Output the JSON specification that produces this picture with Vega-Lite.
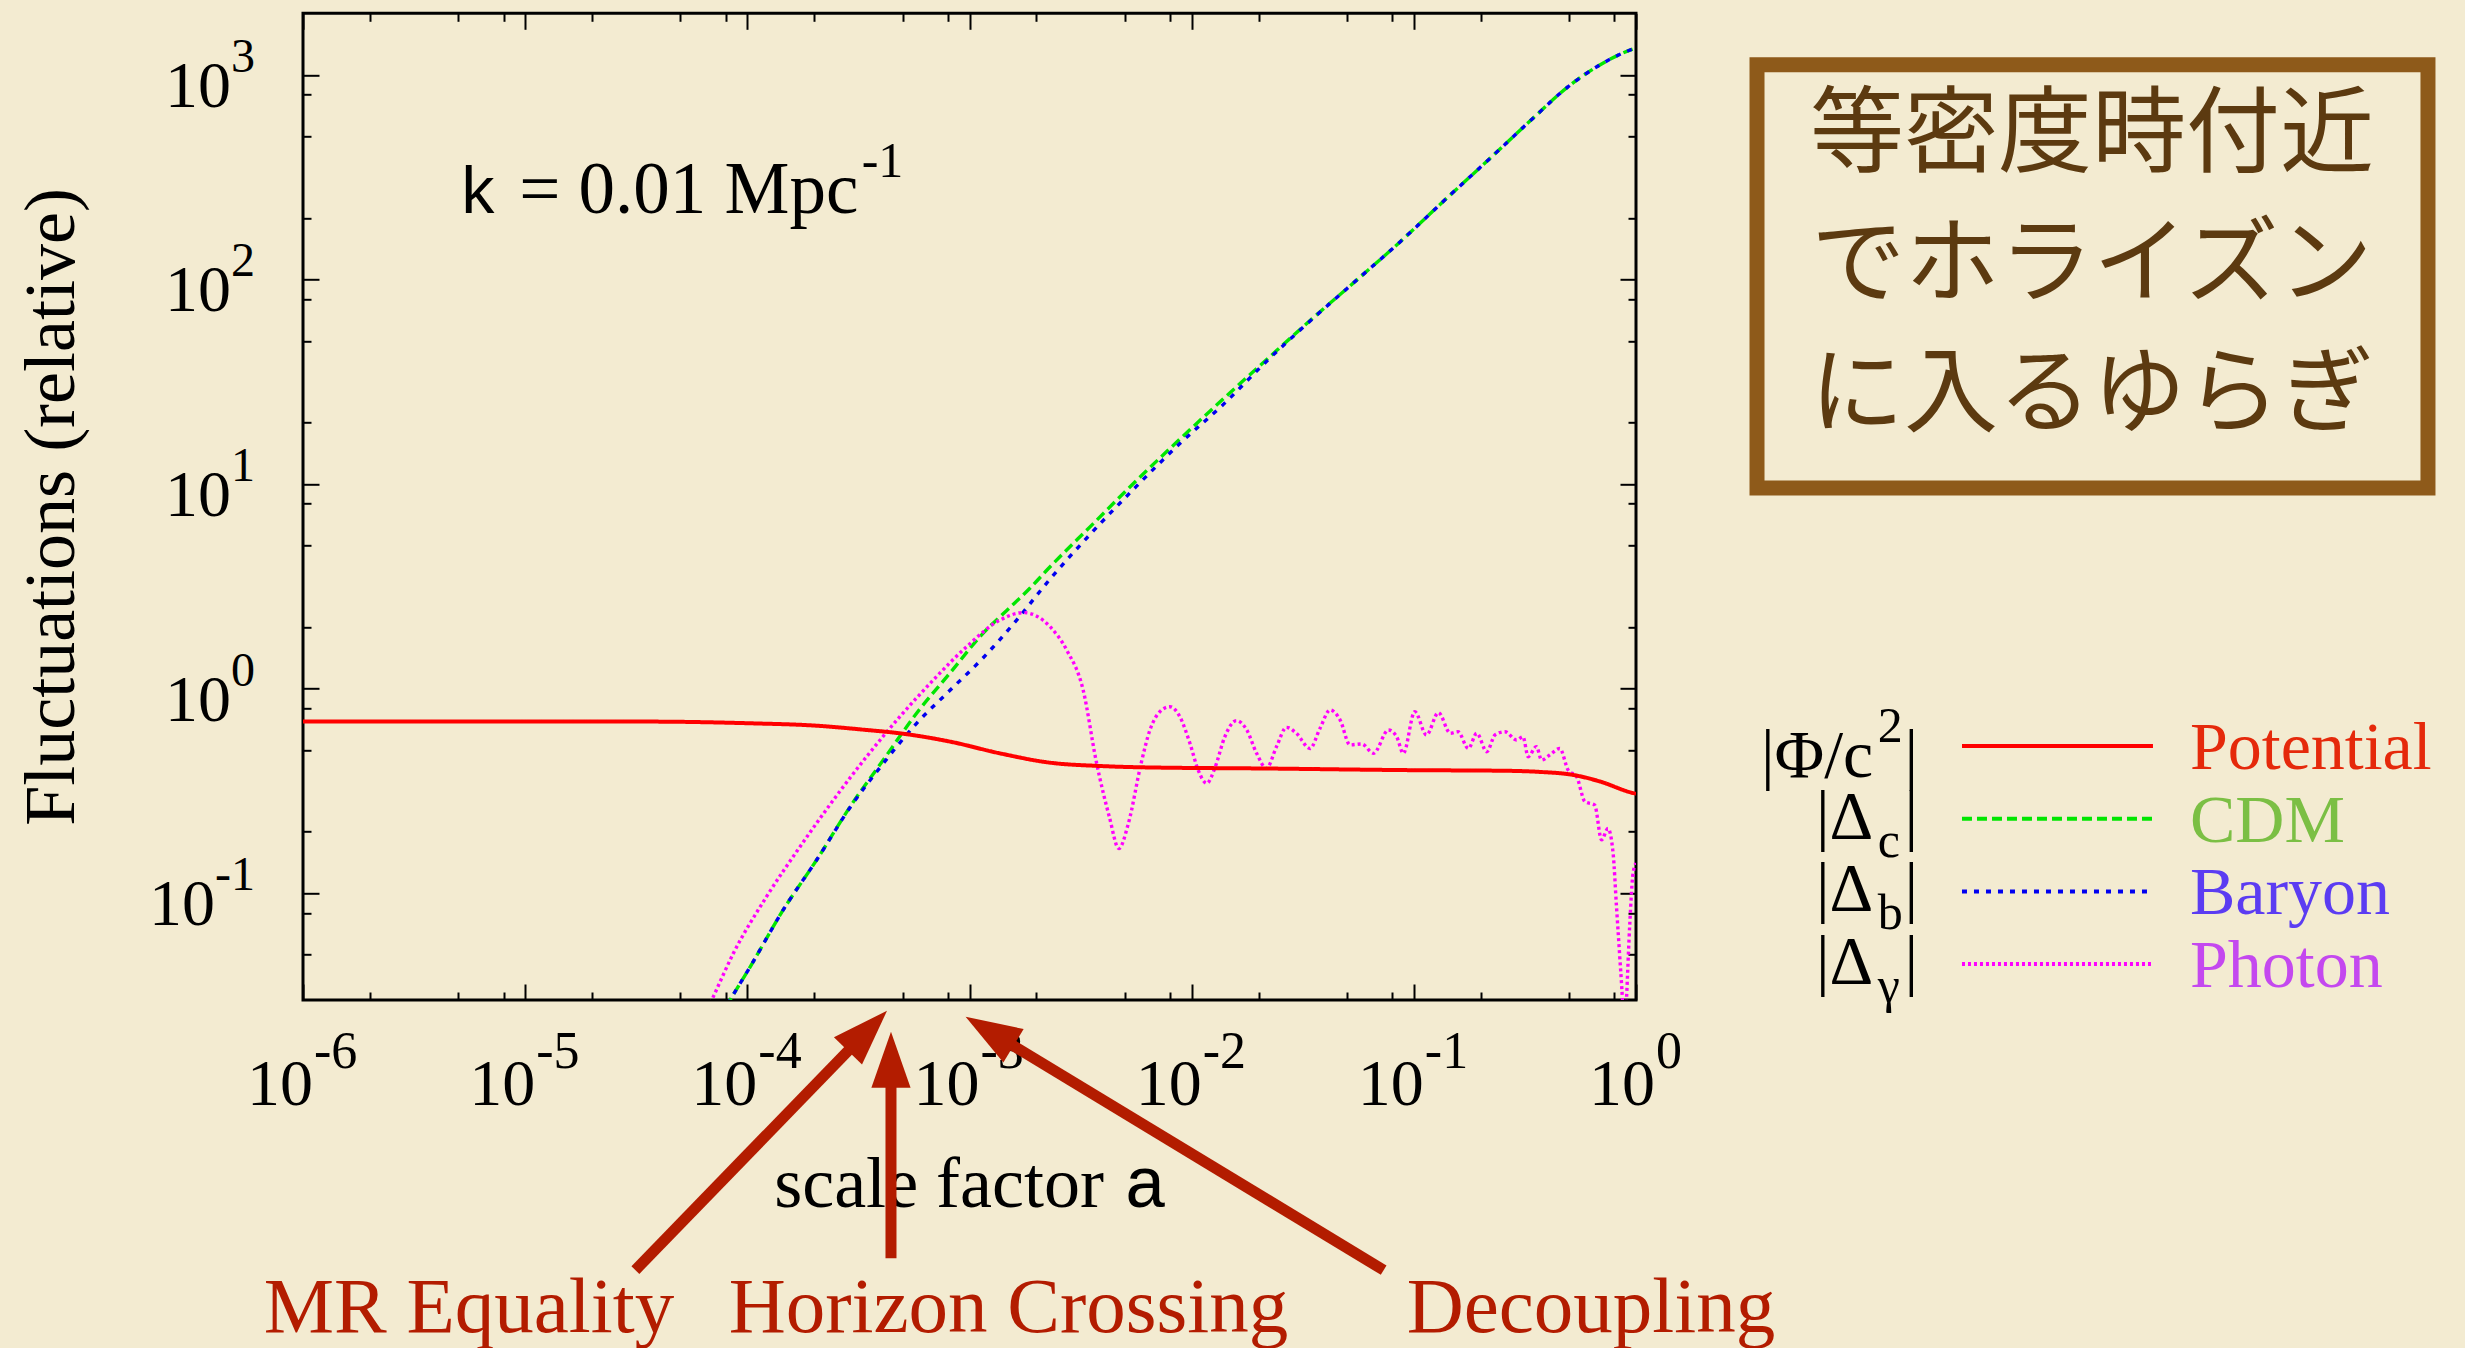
{
  "$schema": "https://vega.github.io/schema/vega-lite/v6.json",
  "width": 1333,
  "height": 986.7,
  "autosize": {"type": "none"},
  "padding": {"left": 303, "top": 13.3, "right": 829, "bottom": 348},
  "background": "#f3ebd1",
  "config": {"view": {"stroke": "#000000", "strokeWidth": 3}, "text": {"font": "Liberation Serif"}},
  "datasets": {
    "curves": [
      {"series": "Potential", "a": 1e-6, "v": 0.69},
      {"series": "Potential", "a": 1e-5, "v": 0.69},
      {"series": "Potential", "a": 3.65e-5, "v": 0.689},
      {"series": "Potential", "a": 1.03e-4, "v": 0.676},
      {"series": "Potential", "a": 2.05e-4, "v": 0.658},
      {"series": "Potential", "a": 3.44e-4, "v": 0.627},
      {"series": "Potential", "a": 4.86e-4, "v": 0.604},
      {"series": "Potential", "a": 8.17e-4, "v": 0.55},
      {"series": "Potential", "a": 1.37e-3, "v": 0.482},
      {"series": "Potential", "a": 2.3e-3, "v": 0.434},
      {"series": "Potential", "a": 3.86e-3, "v": 0.418},
      {"series": "Potential", "a": 5.85e-3, "v": 0.412},
      {"series": "Potential", "a": 2.33e-2, "v": 0.406},
      {"series": "Potential", "a": 9.29e-2, "v": 0.399},
      {"series": "Potential", "a": 0.262, "v": 0.396},
      {"series": "Potential", "a": 0.37, "v": 0.391},
      {"series": "Potential", "a": 0.522, "v": 0.378},
      {"series": "Potential", "a": 0.689, "v": 0.351},
      {"series": "Potential", "a": 0.973, "v": 0.308},
      {"series": "Potential", "a": 1.0, "v": 0.306},
      {"series": "CDM", "a": 6.31e-5, "v": 0.018},
      {"series": "CDM", "a": 8.36e-5, "v": 0.03},
      {"series": "CDM", "a": 1.03e-4, "v": 0.0436},
      {"series": "CDM", "a": 1.45e-4, "v": 0.0827},
      {"series": "CDM", "a": 2.05e-4, "v": 0.145},
      {"series": "CDM", "a": 2.9e-4, "v": 0.264},
      {"series": "CDM", "a": 4.09e-4, "v": 0.447},
      {"series": "CDM", "a": 5.78e-4, "v": 0.757},
      {"series": "CDM", "a": 8.17e-4, "v": 1.19},
      {"series": "CDM", "a": 1.15e-3, "v": 1.86},
      {"series": "CDM", "a": 1.43e-3, "v": 2.34},
      {"series": "CDM", "a": 1.87e-3, "v": 3.09},
      {"series": "CDM", "a": 2.26e-3, "v": 3.85},
      {"series": "CDM", "a": 3.56e-3, "v": 6.31},
      {"series": "CDM", "a": 5.62e-3, "v": 10.35},
      {"series": "CDM", "a": 8.87e-3, "v": 16.6},
      {"series": "CDM", "a": 1.4e-2, "v": 26.3},
      {"series": "CDM", "a": 2.21e-2, "v": 41.2},
      {"series": "CDM", "a": 3.49e-2, "v": 64.3},
      {"series": "CDM", "a": 5.51e-2, "v": 98.9},
      {"series": "CDM", "a": 8.69e-2, "v": 153},
      {"series": "CDM", "a": 0.137, "v": 243},
      {"series": "CDM", "a": 0.217, "v": 385},
      {"series": "CDM", "a": 0.342, "v": 610},
      {"series": "CDM", "a": 0.492, "v": 871},
      {"series": "CDM", "a": 0.678, "v": 1109},
      {"series": "CDM", "a": 0.977, "v": 1343},
      {"series": "CDM", "a": 1.0, "v": 1355},
      {"series": "Baryon", "a": 6.31e-5, "v": 0.018},
      {"series": "Baryon", "a": 8.36e-5, "v": 0.03},
      {"series": "Baryon", "a": 1.03e-4, "v": 0.0436},
      {"series": "Baryon", "a": 1.45e-4, "v": 0.0827},
      {"series": "Baryon", "a": 2.05e-4, "v": 0.145},
      {"series": "Baryon", "a": 2.9e-4, "v": 0.262},
      {"series": "Baryon", "a": 4.09e-4, "v": 0.43},
      {"series": "Baryon", "a": 5.78e-4, "v": 0.676},
      {"series": "Baryon", "a": 8.17e-4, "v": 0.98},
      {"series": "Baryon", "a": 1.15e-3, "v": 1.41},
      {"series": "Baryon", "a": 1.63e-3, "v": 2.16},
      {"series": "Baryon", "a": 2.29e-3, "v": 3.4},
      {"series": "Baryon", "a": 3.56e-3, "v": 5.8},
      {"series": "Baryon", "a": 5.62e-3, "v": 9.7},
      {"series": "Baryon", "a": 8.87e-3, "v": 15.8},
      {"series": "Baryon", "a": 1.4e-2, "v": 24.7},
      {"series": "Baryon", "a": 2.21e-2, "v": 40.5},
      {"series": "Baryon", "a": 3.49e-2, "v": 64.0},
      {"series": "Baryon", "a": 5.51e-2, "v": 98.9},
      {"series": "Baryon", "a": 8.69e-2, "v": 153},
      {"series": "Baryon", "a": 0.137, "v": 243},
      {"series": "Baryon", "a": 0.217, "v": 385},
      {"series": "Baryon", "a": 0.342, "v": 610},
      {"series": "Baryon", "a": 0.492, "v": 871},
      {"series": "Baryon", "a": 0.678, "v": 1109},
      {"series": "Baryon", "a": 0.977, "v": 1343},
      {"series": "Baryon", "a": 1.0, "v": 1355},
      {"series": "Photon", "a": 5.25e-5, "v": 0.0157},
      {"series": "Photon", "a": 6.92e-5, "v": 0.03},
      {"series": "Photon", "a": 8.65e-5, "v": 0.0507},
      {"series": "Photon", "a": 1.22e-4, "v": 0.096},
      {"series": "Photon", "a": 1.73e-4, "v": 0.169},
      {"series": "Photon", "a": 2.44e-4, "v": 0.285},
      {"series": "Photon", "a": 3.44e-4, "v": 0.464},
      {"series": "Photon", "a": 4.86e-4, "v": 0.728},
      {"series": "Photon", "a": 6.87e-4, "v": 1.1},
      {"series": "Photon", "a": 9.7e-4, "v": 1.6},
      {"series": "Photon", "a": 1.37e-3, "v": 2.16},
      {"series": "Photon", "a": 1.75e-3, "v": 2.35},
      {"series": "Photon", "a": 2.3e-3, "v": 2.01},
      {"series": "Photon", "a": 2.74e-3, "v": 1.54},
      {"series": "Photon", "a": 3.25e-3, "v": 0.98},
      {"series": "Photon", "a": 3.72e-3, "v": 0.44},
      {"series": "Photon", "a": 4.26e-3, "v": 0.236},
      {"series": "Photon", "a": 4.7e-3, "v": 0.165},
      {"series": "Photon", "a": 5.19e-3, "v": 0.219},
      {"series": "Photon", "a": 5.92e-3, "v": 0.43},
      {"series": "Photon", "a": 6.49e-3, "v": 0.627},
      {"series": "Photon", "a": 7.19e-3, "v": 0.77},
      {"series": "Photon", "a": 7.98e-3, "v": 0.815},
      {"series": "Photon", "a": 8.85e-3, "v": 0.728},
      {"series": "Photon", "a": 9.82e-3, "v": 0.54},
      {"series": "Photon", "a": 1.07e-2, "v": 0.399},
      {"series": "Photon", "a": 1.17e-2, "v": 0.344},
      {"series": "Photon", "a": 1.27e-2, "v": 0.407},
      {"series": "Photon", "a": 1.41e-2, "v": 0.581},
      {"series": "Photon", "a": 1.59e-2, "v": 0.697},
      {"series": "Photon", "a": 1.77e-2, "v": 0.627},
      {"series": "Photon", "a": 1.96e-2, "v": 0.482},
      {"series": "Photon", "a": 2.17e-2, "v": 0.407},
      {"series": "Photon", "a": 2.41e-2, "v": 0.52},
      {"series": "Photon", "a": 2.67e-2, "v": 0.646},
      {"series": "Photon", "a": 2.96e-2, "v": 0.604},
      {"series": "Photon", "a": 3.41e-2, "v": 0.509},
      {"series": "Photon", "a": 3.78e-2, "v": 0.638},
      {"series": "Photon", "a": 4.2e-2, "v": 0.785},
      {"series": "Photon", "a": 4.66e-2, "v": 0.701},
      {"series": "Photon", "a": 5.16e-2, "v": 0.53},
      {"series": "Photon", "a": 5.83e-2, "v": 0.536},
      {"series": "Photon", "a": 6.58e-2, "v": 0.482},
      {"series": "Photon", "a": 7.69e-2, "v": 0.627},
      {"series": "Photon", "a": 8.37e-2, "v": 0.581},
      {"series": "Photon", "a": 8.97e-2, "v": 0.482},
      {"series": "Photon", "a": 0.101, "v": 0.77},
      {"series": "Photon", "a": 0.114, "v": 0.593},
      {"series": "Photon", "a": 0.129, "v": 0.762},
      {"series": "Photon", "a": 0.146, "v": 0.604},
      {"series": "Photon", "a": 0.158, "v": 0.615},
      {"series": "Photon", "a": 0.176, "v": 0.509},
      {"series": "Photon", "a": 0.192, "v": 0.604},
      {"series": "Photon", "a": 0.213, "v": 0.491},
      {"series": "Photon", "a": 0.232, "v": 0.593},
      {"series": "Photon", "a": 0.257, "v": 0.615},
      {"series": "Photon", "a": 0.29, "v": 0.56},
      {"series": "Photon", "a": 0.31, "v": 0.581},
      {"series": "Photon", "a": 0.327, "v": 0.464},
      {"series": "Photon", "a": 0.356, "v": 0.52},
      {"series": "Photon", "a": 0.376, "v": 0.447},
      {"series": "Photon", "a": 0.409, "v": 0.473},
      {"series": "Photon", "a": 0.454, "v": 0.509},
      {"series": "Photon", "a": 0.495, "v": 0.399},
      {"series": "Photon", "a": 0.54, "v": 0.371},
      {"series": "Photon", "a": 0.589, "v": 0.28},
      {"series": "Photon", "a": 0.652, "v": 0.269},
      {"series": "Photon", "a": 0.7, "v": 0.182},
      {"series": "Photon", "a": 0.748, "v": 0.207},
      {"series": "Photon", "a": 0.789, "v": 0.156},
      {"series": "Photon", "a": 0.817, "v": 0.0857},
      {"series": "Photon", "a": 0.845, "v": 0.0489},
      {"series": "Photon", "a": 0.869, "v": 0.03},
      {"series": "Photon", "a": 0.887, "v": 0.018},
      {"series": "Photon", "a": 0.906, "v": 0.03},
      {"series": "Photon", "a": 0.938, "v": 0.0713},
      {"series": "Photon", "a": 0.97, "v": 0.125},
      {"series": "Photon", "a": 1.0, "v": 0.14}
    ],
    "xticks": [
      {"a": 1e-6, "e": "-6"}, {"a": 1e-5, "e": "-5"}, {"a": 1e-4, "e": "-4"},
      {"a": 1e-3, "e": "-3"}, {"a": 0.01, "e": "-2"}, {"a": 0.1, "e": "-1"}, {"a": 1, "e": "0"}
    ],
    "yticks": [
      {"v": 1000, "e": "3"}, {"v": 100, "e": "2"}, {"v": 10, "e": "1"}, {"v": 1, "e": "0"}, {"v": 0.1, "e": "-1"}
    ],
    "legend": [
      {"series": "Potential", "main": "|Φ/c", "script": "2", "label": "Potential"},
      {"series": "CDM", "main": "|Δ", "script": "c", "label": "CDM"},
      {"series": "Baryon", "main": "|Δ", "script": "b", "label": "Baryon"},
      {"series": "Photon", "main": "|Δ", "script": "γ", "label": "Photon"}
    ]
  },
  "layer": [
    {
      "layer": [
        {
          "data": {"name": "curves"},
          "transform": [{"filter": "datum.series != 'Potential'"}],
          "mark": {"type": "line", "clip": true, "strokeWidth": 3.4, "interpolate": "monotone"},
          "encoding": {
            "x": {"field": "a", "type": "quantitative", "scale": {"type": "log", "domain": [1e-6, 1], "nice": false},
              "axis": {"orient": "top", "values": [1e-6, 2e-6, 5e-6, 8e-6, 1e-5, 2e-5, 5e-5, 8e-5, 1e-4, 2e-4, 5e-4, 8e-4, 0.001, 0.002, 0.005, 0.008, 0.01, 0.02, 0.05, 0.08, 0.1, 0.2, 0.5, 0.8, 1],
                "labels": false, "domain": false, "grid": false, "title": null, "tickColor": "#000000", "tickWidth": 2,
                "tickSize": {"condition": {"test": "abs(log(datum.value)/LN10 - round(log(datum.value)/LN10)) < 0.001", "value": -16}, "value": -8}}},
            "y": {"field": "v", "type": "quantitative", "scale": {"type": "log", "domain": [0.03, 2000], "nice": false},
              "axis": {"orient": "right", "values": [0.05, 0.08, 0.1, 0.2, 0.5, 0.8, 1, 2, 5, 8, 10, 20, 50, 80, 100, 200, 500, 800, 1000],
                "labels": false, "domain": false, "grid": false, "title": null, "tickColor": "#000000", "tickWidth": 2,
                "tickSize": {"condition": {"test": "abs(log(datum.value)/LN10 - round(log(datum.value)/LN10)) < 0.001", "value": -16}, "value": -8}}},
            "stroke": {"field": "series", "type": "nominal", "scale": {"domain": ["Potential", "CDM", "Baryon", "Photon"], "range": ["#ff0000", "#00e600", "#0000f0", "#ff00ff"]}, "legend": null},
            "strokeDash": {"field": "series", "type": "nominal", "scale": {"domain": ["Potential", "CDM", "Baryon", "Photon"], "range": [[1, 0], [10, 5], [5, 7], [3, 3]]}, "legend": null}
          }
        },
        {
          "data": {"name": "curves"},
          "transform": [{"filter": "datum.series == 'Potential'"}],
          "mark": {"type": "line", "clip": true, "strokeWidth": 4, "interpolate": "monotone"},
          "encoding": {
            "x": {"field": "a", "type": "quantitative", "scale": {"type": "log", "domain": [1e-6, 1], "nice": false},
              "axis": {"orient": "bottom", "values": [1e-6, 2e-6, 5e-6, 8e-6, 1e-5, 2e-5, 5e-5, 8e-5, 1e-4, 2e-4, 5e-4, 8e-4, 0.001, 0.002, 0.005, 0.008, 0.01, 0.02, 0.05, 0.08, 0.1, 0.2, 0.5, 0.8, 1],
                "labels": false, "domain": false, "grid": false, "title": null, "tickColor": "#000000", "tickWidth": 2,
                "tickSize": {"condition": {"test": "abs(log(datum.value)/LN10 - round(log(datum.value)/LN10)) < 0.001", "value": -16}, "value": -8}}},
            "y": {"field": "v", "type": "quantitative", "scale": {"type": "log", "domain": [0.03, 2000], "nice": false},
              "axis": {"orient": "left", "values": [0.05, 0.08, 0.1, 0.2, 0.5, 0.8, 1, 2, 5, 8, 10, 20, 50, 80, 100, 200, 500, 800, 1000],
                "labels": false, "domain": false, "grid": false, "title": null, "tickColor": "#000000", "tickWidth": 2,
                "tickSize": {"condition": {"test": "abs(log(datum.value)/LN10 - round(log(datum.value)/LN10)) < 0.001", "value": -16}, "value": -8}}},
            "stroke": {"field": "series", "type": "nominal", "scale": {"domain": ["Potential", "CDM", "Baryon", "Photon"], "range": ["#ff0000", "#00e600", "#0000f0", "#ff00ff"]}, "legend": null},
            "strokeDash": {"field": "series", "type": "nominal", "scale": {"domain": ["Potential", "CDM", "Baryon", "Photon"], "range": [[1, 0], [10, 5], [5, 7], [3, 3]]}, "legend": null}
          }
        },
        {
          "data": {"name": "xticks"},
          "transform": [{"filter": "datum.a < 0.5"}],
          "mark": {"type": "text", "text": "10", "fontSize": 66, "align": "right", "baseline": "alphabetic", "dx": 10, "dy": 105, "color": "#000000"},
          "encoding": {"x": {"field": "a", "type": "quantitative", "axis": null}, "y": {"datum": 0.03, "type": "quantitative", "axis": null}}
        },
        {
          "data": {"name": "xticks"},
          "transform": [{"filter": "datum.a < 0.5"}],
          "mark": {"type": "text", "fontSize": 52, "align": "left", "baseline": "alphabetic", "dx": 11, "dy": 68, "color": "#000000"},
          "encoding": {"text": {"field": "e"}, "x": {"field": "a", "type": "quantitative", "axis": null}, "y": {"datum": 0.03, "type": "quantitative", "axis": null}}
        },
        {
          "data": {"name": "xticks"},
          "transform": [{"filter": "datum.a >= 0.5"}],
          "mark": {"type": "text", "text": "10", "fontSize": 66, "align": "right", "baseline": "alphabetic", "dx": 19, "dy": 105, "color": "#000000"},
          "encoding": {"x": {"field": "a", "type": "quantitative", "axis": null}, "y": {"datum": 0.03, "type": "quantitative", "axis": null}}
        },
        {
          "data": {"name": "xticks"},
          "transform": [{"filter": "datum.a >= 0.5"}],
          "mark": {"type": "text", "fontSize": 52, "align": "left", "baseline": "alphabetic", "dx": 20, "dy": 68, "color": "#000000"},
          "encoding": {"text": {"field": "e"}, "x": {"field": "a", "type": "quantitative", "axis": null}, "y": {"datum": 0.03, "type": "quantitative", "axis": null}}
        },
        {
          "data": {"name": "yticks"},
          "mark": {"type": "text", "fontSize": 48, "align": "right", "baseline": "alphabetic", "dx": -48, "dy": -3, "color": "#000000"},
          "encoding": {"text": {"field": "e"}, "x": {"datum": 1e-6, "type": "quantitative", "axis": null}, "y": {"field": "v", "type": "quantitative", "axis": null}}
        },
        {
          "data": {"name": "yticks"},
          "transform": [{"filter": "datum.v >= 1"}],
          "mark": {"type": "text", "text": "10", "fontSize": 66, "align": "right", "baseline": "alphabetic", "dx": -72, "dy": 32, "color": "#000000"},
          "encoding": {"x": {"datum": 1e-6, "type": "quantitative", "axis": null}, "y": {"field": "v", "type": "quantitative", "axis": null}}
        },
        {
          "data": {"name": "yticks"},
          "transform": [{"filter": "datum.v < 1"}],
          "mark": {"type": "text", "text": "10", "fontSize": 66, "align": "right", "baseline": "alphabetic", "dx": -88, "dy": 32, "color": "#000000"},
          "encoding": {"x": {"datum": 1e-6, "type": "quantitative", "axis": null}, "y": {"field": "v", "type": "quantitative", "axis": null}}
        },
        {
          "data": {"values": [{}]},
          "mark": {"type": "text", "text": "Fluctuations (relative)", "fontSize": 72, "angle": 270, "align": "center", "baseline": "alphabetic", "color": "#000000"},
          "encoding": {"x": {"datum": 9.29e-8, "type": "quantitative", "axis": null}, "y": {"datum": 7.72, "type": "quantitative", "axis": null}}
        },
        {
          "data": {"values": [{}]},
          "mark": {"type": "text", "text": "scale factor", "fontSize": 72, "align": "right", "baseline": "alphabetic", "color": "#000000"},
          "encoding": {"x": {"datum": 4.029e-3, "type": "quantitative", "axis": null}, "y": {"datum": 2.913e-3, "type": "quantitative", "axis": null}}
        },
        {
          "data": {"values": [{}]},
          "mark": {"type": "text", "text": "a", "font": "Liberation Mono", "fontSize": 72, "align": "left", "baseline": "alphabetic", "color": "#000000"},
          "encoding": {"x": {"datum": 4.959e-3, "type": "quantitative", "axis": null}, "y": {"datum": 2.913e-3, "type": "quantitative", "axis": null}}
        },
        {
          "data": {"values": [{}]},
          "mark": {"type": "text", "text": "k", "font": "Liberation Mono", "fontSize": 66, "align": "left", "baseline": "alphabetic", "color": "#000000"},
          "encoding": {"x": {"datum": 5.0e-6, "type": "quantitative", "axis": null}, "y": {"datum": 210.7, "type": "quantitative", "axis": null}}
        },
        {
          "data": {"values": [{}]},
          "mark": {"type": "text", "text": "= 0.01 Mpc", "fontSize": 73, "align": "left", "baseline": "alphabetic", "color": "#000000"},
          "encoding": {"x": {"datum": 9.4e-6, "type": "quantitative", "axis": null}, "y": {"datum": 210.7, "type": "quantitative", "axis": null}}
        },
        {
          "data": {"values": [{}]},
          "mark": {"type": "text", "text": "-1", "fontSize": 50, "align": "left", "baseline": "alphabetic", "color": "#000000"},
          "encoding": {"x": {"datum": 3.27e-4, "type": "quantitative", "axis": null}, "y": {"datum": 318.2, "type": "quantitative", "axis": null}}
        },
        {
          "data": {"values": [{}]},
          "mark": {"type": "text", "text": "MR Equality", "fontSize": 79, "align": "center", "baseline": "alphabetic", "color": "#b31c00"},
          "encoding": {"x": {"datum": 5.588e-6, "type": "quantitative", "axis": null}, "y": {"datum": 7.156e-4, "type": "quantitative", "axis": null}}
        },
        {
          "data": {"values": [{}]},
          "mark": {"type": "text", "text": "Horizon Crossing", "fontSize": 79, "align": "center", "baseline": "alphabetic", "color": "#b31c00"},
          "encoding": {"x": {"datum": 1.498e-3, "type": "quantitative", "axis": null}, "y": {"datum": 7.156e-4, "type": "quantitative", "axis": null}}
        },
        {
          "data": {"values": [{}]},
          "mark": {"type": "text", "text": "Decoupling", "fontSize": 79, "align": "center", "baseline": "alphabetic", "color": "#b31c00"},
          "encoding": {"x": {"datum": 0.6271, "type": "quantitative", "axis": null}, "y": {"datum": 7.156e-4, "type": "quantitative", "axis": null}}
        },
        {
          "data": {"values": [{}]},
          "mark": {"type": "rule", "strokeWidth": 11, "color": "#b31c00"},
          "encoding": {"x": {"datum": 3.134e-5, "type": "quantitative", "axis": null}, "y": {"datum": 0.001434, "type": "quantitative", "axis": null}, "x2": {"datum": 3.184e-4}, "y2": {"datum": 0.01924}}
        },
        {
          "data": {"values": [{}]},
          "mark": {"type": "rule", "strokeWidth": 11, "color": "#b31c00"},
          "encoding": {"x": {"datum": 4.432e-4, "type": "quantitative", "axis": null}, "y": {"datum": 0.00164, "type": "quantitative", "axis": null}, "x2": {"datum": 4.432e-4}, "y2": {"datum": 0.01363}}
        },
        {
          "data": {"values": [{}]},
          "mark": {"type": "rule", "strokeWidth": 11, "color": "#b31c00"},
          "encoding": {"x": {"datum": 0.07314, "type": "quantitative", "axis": null}, "y": {"datum": 0.001434, "type": "quantitative", "axis": null}, "x2": {"datum": 1.369e-3}, "y2": {"datum": 0.01967}}
        },
        {
          "data": {"values": [{}]},
          "mark": {"type": "point", "shape": "M0,-1L0.7,1L-0.7,1Z", "filled": true, "opacity": 1, "size": 3136, "angle": 44.2, "color": "#b31c00"},
          "encoding": {"x": {"datum": 3.474e-4, "type": "quantitative", "axis": null}, "y": {"datum": 0.0212, "type": "quantitative", "axis": null}}
        },
        {
          "data": {"values": [{}]},
          "mark": {"type": "point", "shape": "M0,-1L0.7,1L-0.7,1Z", "filled": true, "opacity": 1, "size": 3136, "angle": 0, "color": "#b31c00"},
          "encoding": {"x": {"datum": 4.432e-4, "type": "quantitative", "axis": null}, "y": {"datum": 0.0153, "type": "quantitative", "axis": null}}
        },
        {
          "data": {"values": [{}]},
          "mark": {"type": "point", "shape": "M0,-1L0.7,1L-0.7,1Z", "filled": true, "opacity": 1, "size": 3136, "angle": 301.2, "color": "#b31c00"},
          "encoding": {"x": {"datum": 1.231e-3, "type": "quantitative", "axis": null}, "y": {"datum": 0.0211, "type": "quantitative", "axis": null}}
        },
        {
          "data": {"values": [{}]},
          "mark": {"type": "rect", "fillOpacity": 0, "stroke": "#8e5a1a", "strokeWidth": 15},
          "encoding": {"x": {"datum": 3.505, "type": "quantitative", "axis": null}, "x2": {"datum": 3671}, "y": {"datum": 1119.3, "type": "quantitative", "axis": null}, "y2": {"datum": 9.559}}
        },
        {
          "data": {"values": [{}]},
          "mark": {"type": "text", "text": ["等密度時付近", "でホライズン", "に入るゆらぎ"], "font": "Noto Sans CJK JP", "fontWeight": 400, "fontSize": 94, "lineHeight": 130, "align": "center", "baseline": "middle", "color": "#5c3a10"},
          "encoding": {"x": {"datum": 112.8, "type": "quantitative", "axis": null}, "y": {"datum": 494.8, "type": "quantitative", "axis": null}}
        }
      ],
      "resolve": {"axis": {"x": "independent", "y": "independent"}}
    },
    {
      "data": {"name": "legend"},
      "layer": [
        {
          "mark": {"type": "rule", "strokeWidth": 4},
          "encoding": {
            "x": {"datum": 29.33, "type": "quantitative", "axis": null}, "x2": {"datum": 212.3},
            "y": {"field": "series", "type": "nominal", "scale": {"domain": ["Potential", "CDM", "Baryon", "Photon"], "range": [696.35, 987.15]}, "axis": null},
            "stroke": {"field": "series", "type": "nominal", "scale": {"domain": ["Potential", "CDM", "Baryon", "Photon"], "range": ["#ff0000", "#00e600", "#0000f0", "#ff00ff"]}, "legend": null},
            "strokeDash": {"field": "series", "type": "nominal", "scale": {"domain": ["Potential", "CDM", "Baryon", "Photon"], "range": [[1, 0], [10, 5], [5, 7], [3, 3]]}, "legend": null}
          }
        },
        {
          "mark": {"type": "text", "fontSize": 68, "align": "left", "baseline": "alphabetic", "dy": 23},
          "encoding": {
            "text": {"field": "label"},
            "x": {"datum": 311.4, "type": "quantitative", "axis": null},
            "y": {"field": "series", "type": "nominal", "scale": {"domain": ["Potential", "CDM", "Baryon", "Photon"], "range": [696.35, 987.15]}, "axis": null},
            "color": {"field": "series", "type": "nominal", "scale": {"domain": ["Potential", "CDM", "Baryon", "Photon"], "range": ["#e5290b", "#7bbf44", "#5b3cf2", "#c448ef"]}, "legend": null}
          }
        },
        {
          "transform": [{"filter": "datum.series != 'Potential'"}],
          "mark": {"type": "text", "fontSize": 68, "align": "right", "baseline": "alphabetic", "dy": 19, "color": "#000000"},
          "encoding": {
            "text": {"field": "main"},
            "x": {"datum": 11.7, "type": "quantitative", "axis": null},
            "y": {"field": "series", "type": "nominal", "scale": {"domain": ["Potential", "CDM", "Baryon", "Photon"], "range": [696.35, 987.15]}, "axis": null}
          }
        },
        {
          "transform": [{"filter": "datum.series == 'Potential'"}],
          "mark": {"type": "text", "fontSize": 68, "align": "right", "baseline": "alphabetic", "dy": 31, "color": "#000000"},
          "encoding": {
            "text": {"field": "main"},
            "x": {"datum": 11.7, "type": "quantitative", "axis": null},
            "y": {"field": "series", "type": "nominal", "scale": {"domain": ["Potential", "CDM", "Baryon", "Photon"], "range": [696.35, 987.15]}, "axis": null}
          }
        },
        {
          "transform": [{"filter": "datum.series != 'Potential'"}],
          "mark": {"type": "text", "fontSize": 50, "align": "left", "baseline": "alphabetic", "dy": 38, "color": "#000000"},
          "encoding": {
            "text": {"field": "script"},
            "x": {"datum": 12.25, "type": "quantitative", "axis": null},
            "y": {"field": "series", "type": "nominal", "scale": {"domain": ["Potential", "CDM", "Baryon", "Photon"], "range": [696.35, 987.15]}, "axis": null}
          }
        },
        {
          "transform": [{"filter": "datum.series == 'Potential'"}],
          "mark": {"type": "text", "fontSize": 50, "align": "left", "baseline": "alphabetic", "dy": -4, "color": "#000000"},
          "encoding": {
            "text": {"field": "script"},
            "x": {"datum": 12.25, "type": "quantitative", "axis": null},
            "y": {"field": "series", "type": "nominal", "scale": {"domain": ["Potential", "CDM", "Baryon", "Photon"], "range": [696.35, 987.15]}, "axis": null}
          }
        },
        {
          "transform": [{"filter": "datum.series != 'Potential'"}],
          "mark": {"type": "text", "text": "|", "fontSize": 68, "align": "right", "baseline": "alphabetic", "dy": 19, "color": "#000000"},
          "encoding": {
            "x": {"datum": 18.6, "type": "quantitative", "axis": null},
            "y": {"field": "series", "type": "nominal", "scale": {"domain": ["Potential", "CDM", "Baryon", "Photon"], "range": [696.35, 987.15]}, "axis": null}
          }
        },
        {
          "transform": [{"filter": "datum.series == 'Potential'"}],
          "mark": {"type": "text", "text": "|", "fontSize": 68, "align": "right", "baseline": "alphabetic", "dy": 31, "color": "#000000"},
          "encoding": {
            "x": {"datum": 18.6, "type": "quantitative", "axis": null},
            "y": {"field": "series", "type": "nominal", "scale": {"domain": ["Potential", "CDM", "Baryon", "Photon"], "range": [696.35, 987.15]}, "axis": null}
          }
        }
      ]
    }
  ],
  "resolve": {"scale": {"y": "independent"}, "axis": {"x": "independent", "y": "independent"}}
}
